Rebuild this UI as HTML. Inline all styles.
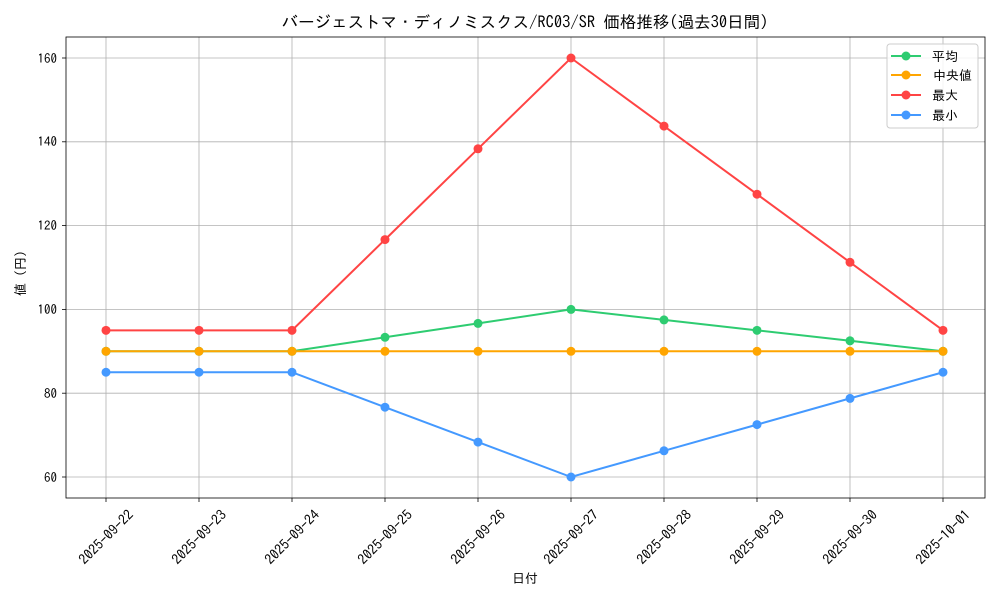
<!DOCTYPE html>
<html><head><meta charset="utf-8"><style>body{margin:0;background:#fff}svg{display:block}text{font-family:"IPAGothic","Noto Sans CJK JP",monospace;fill:#000}</style></head><body>
<svg width="1000" height="600" xmlns="http://www.w3.org/2000/svg">
<rect width="1000" height="600" fill="#fff"/>
<g stroke="#b0b0b0" stroke-width="0.8">
<line x1="106" y1="37" x2="106" y2="498"/><line x1="199" y1="37" x2="199" y2="498"/><line x1="292" y1="37" x2="292" y2="498"/><line x1="385" y1="37" x2="385" y2="498"/><line x1="478" y1="37" x2="478" y2="498"/><line x1="571" y1="37" x2="571" y2="498"/><line x1="664" y1="37" x2="664" y2="498"/><line x1="757" y1="37" x2="757" y2="498"/><line x1="850" y1="37" x2="850" y2="498"/><line x1="943" y1="37" x2="943" y2="498"/>
<line x1="66" y1="477" x2="985" y2="477"/><line x1="66" y1="393.2" x2="985" y2="393.2"/><line x1="66" y1="309.4" x2="985" y2="309.4"/><line x1="66" y1="225.6" x2="985" y2="225.6"/><line x1="66" y1="141.8" x2="985" y2="141.8"/><line x1="66" y1="58" x2="985" y2="58"/>
</g>
<rect x="66" y="37" width="919" height="461" fill="none" stroke="#000" stroke-width="0.8"/>
<g stroke="#000" stroke-width="0.8">
<line x1="62" y1="477" x2="66" y2="477"/><line x1="62" y1="393.2" x2="66" y2="393.2"/><line x1="62" y1="309.4" x2="66" y2="309.4"/><line x1="62" y1="225.6" x2="66" y2="225.6"/><line x1="62" y1="141.8" x2="66" y2="141.8"/><line x1="62" y1="58" x2="66" y2="58"/>
<line x1="106" y1="498" x2="106" y2="502"/><line x1="199" y1="498" x2="199" y2="502"/><line x1="292" y1="498" x2="292" y2="502"/><line x1="385" y1="498" x2="385" y2="502"/><line x1="478" y1="498" x2="478" y2="502"/><line x1="571" y1="498" x2="571" y2="502"/><line x1="664" y1="498" x2="664" y2="502"/><line x1="757" y1="498" x2="757" y2="502"/><line x1="850" y1="498" x2="850" y2="502"/><line x1="943" y1="498" x2="943" y2="502"/>
</g>
<g font-size="13" text-anchor="end">
<text x="57" y="482">60</text><text x="57" y="398">80</text><text x="57" y="314">100</text><text x="57" y="230">120</text><text x="57" y="146">140</text><text x="57" y="63">160</text>
</g>
<g font-size="14" text-anchor="middle">
<text transform="translate(106,537) rotate(-45)" dy="5">2025-09-22</text>
<text transform="translate(199,537) rotate(-45)" dy="5">2025-09-23</text>
<text transform="translate(292,537) rotate(-45)" dy="5">2025-09-24</text>
<text transform="translate(385,537) rotate(-45)" dy="5">2025-09-25</text>
<text transform="translate(478,537) rotate(-45)" dy="5">2025-09-26</text>
<text transform="translate(571,537) rotate(-45)" dy="5">2025-09-27</text>
<text transform="translate(664,537) rotate(-45)" dy="5">2025-09-28</text>
<text transform="translate(757,537) rotate(-45)" dy="5">2025-09-29</text>
<text transform="translate(850,537) rotate(-45)" dy="5">2025-09-30</text>
<text transform="translate(943,537) rotate(-45)" dy="5">2025-10-01</text>
</g>
<text x="525" y="583" font-size="13" text-anchor="middle">日付</text>
<text transform="translate(25,270) rotate(-90)" font-size="13" text-anchor="middle">値（円）</text>
<text x="525" y="28" font-size="16.5" text-anchor="middle">バージェストマ・ディノミスクス/RC03/SR 価格推移(過去30日間)</text>
<g fill="none" stroke-width="2">
<polyline stroke="#2ecc71" points="106,351.3 199,351.3 292,351.3 385,337.3 478,323.4 571,309.4 664,319.9 757,330.35 850,340.8 943,351.3"/>
<polyline stroke="#ffa500" points="106,351.3 199,351.3 292,351.3 385,351.3 478,351.3 571,351.3 664,351.3 757,351.3 850,351.3 943,351.3"/>
<polyline stroke="#ff4444" points="106,330.35 199,330.35 292,330.35 385,239.6 478,148.8 571,58 664,126.1 757,194.2 850,262.3 943,330.35"/>
<polyline stroke="#4499ff" points="106,372.25 199,372.25 292,372.25 385,407.2 478,442.1 571,477 664,450.8 757,424.6 850,398.4 943,372.25"/>
</g>
<g fill="#2ecc71"><circle cx="106" cy="351.3" r="4.5"/><circle cx="199" cy="351.3" r="4.5"/><circle cx="292" cy="351.3" r="4.5"/><circle cx="385" cy="337.3" r="4.5"/><circle cx="478" cy="323.4" r="4.5"/><circle cx="571" cy="309.4" r="4.5"/><circle cx="664" cy="319.9" r="4.5"/><circle cx="757" cy="330.35" r="4.5"/><circle cx="850" cy="340.8" r="4.5"/><circle cx="943" cy="351.3" r="4.5"/></g>
<g fill="#ffa500"><circle cx="106" cy="351.3" r="4.5"/><circle cx="199" cy="351.3" r="4.5"/><circle cx="292" cy="351.3" r="4.5"/><circle cx="385" cy="351.3" r="4.5"/><circle cx="478" cy="351.3" r="4.5"/><circle cx="571" cy="351.3" r="4.5"/><circle cx="664" cy="351.3" r="4.5"/><circle cx="757" cy="351.3" r="4.5"/><circle cx="850" cy="351.3" r="4.5"/><circle cx="943" cy="351.3" r="4.5"/></g>
<g fill="#ff4444"><circle cx="106" cy="330.35" r="4.5"/><circle cx="199" cy="330.35" r="4.5"/><circle cx="292" cy="330.35" r="4.5"/><circle cx="385" cy="239.6" r="4.5"/><circle cx="478" cy="148.8" r="4.5"/><circle cx="571" cy="58" r="4.5"/><circle cx="664" cy="126.1" r="4.5"/><circle cx="757" cy="194.2" r="4.5"/><circle cx="850" cy="262.3" r="4.5"/><circle cx="943" cy="330.35" r="4.5"/></g>
<g fill="#4499ff"><circle cx="106" cy="372.25" r="4.5"/><circle cx="199" cy="372.25" r="4.5"/><circle cx="292" cy="372.25" r="4.5"/><circle cx="385" cy="407.2" r="4.5"/><circle cx="478" cy="442.1" r="4.5"/><circle cx="571" cy="477" r="4.5"/><circle cx="664" cy="450.8" r="4.5"/><circle cx="757" cy="424.6" r="4.5"/><circle cx="850" cy="398.4" r="4.5"/><circle cx="943" cy="372.25" r="4.5"/></g>
<rect x="887" y="44" width="91" height="84" rx="3" fill="#fff" fill-opacity="0.85" stroke="#ccc"/>
<g stroke-width="2">
<line x1="891" y1="56" x2="921" y2="56" stroke="#2ecc71"/><circle cx="906" cy="56" r="4.5" fill="#2ecc71"/>
<line x1="891" y1="75" x2="921" y2="75" stroke="#ffa500"/><circle cx="906" cy="75" r="4.5" fill="#ffa500"/>
<line x1="891" y1="95" x2="921" y2="95" stroke="#ff4444"/><circle cx="906" cy="95" r="4.5" fill="#ff4444"/>
<line x1="891" y1="115" x2="921" y2="115" stroke="#4499ff"/><circle cx="906" cy="115" r="4.5" fill="#4499ff"/>
</g>
<g font-size="13"><text x="932" y="61">平均</text><text x="933" y="80">中央値</text><text x="932" y="100">最大</text><text x="932" y="120">最小</text></g>
</svg>
</body></html>
